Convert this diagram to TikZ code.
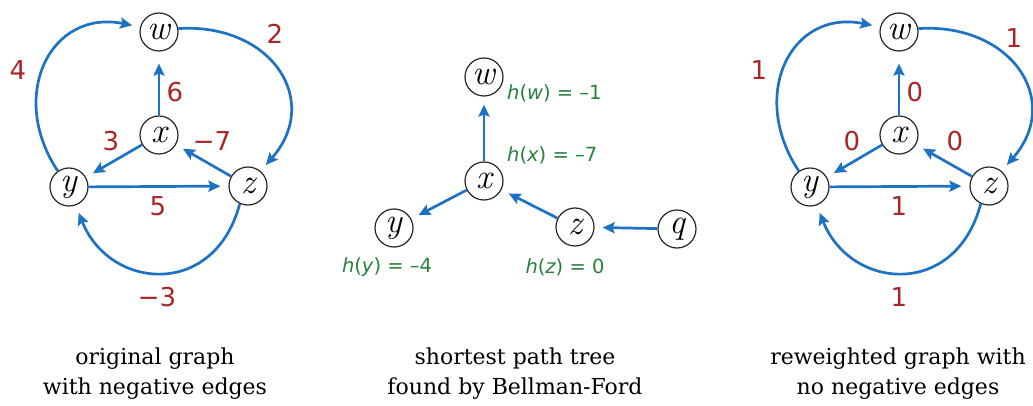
\documentclass[tikz,border=0pt]{standalone}
\usepackage{fontspec}
\usetikzlibrary{arrows.meta}
\newfontfamily\numfont{DejaVu Sans}
\newfontfamily\capfont{DejaVu Serif}
\definecolor{edgeblue}{RGB}{30,114,196}
\definecolor{wred}{RGB}{168,38,38}
\definecolor{hgreen}{RGB}{38,128,58}
\tikzset{
  vtx/.style={circle, draw=black!85, line width=1.2pt, minimum size=38pt, inner sep=0pt,
              font=\fontsize{35}{35}\selectfont\itshape},
  arr/.style={draw=edgeblue, line width=2.7pt, -{Stealth[length=12pt,width=11pt,inset=2pt]}, shorten >=8pt},
  wt/.style={text=wred, font=\numfont\fontsize{26}{26}\selectfont, inner sep=0pt},
  hl/.style={text=hgreen, font=\numfont\fontsize{19.5}{19.5}\selectfont, inner sep=0pt},
  captext/.style={font=\capfont\fontsize{22}{30}\selectfont, align=center, inner sep=0pt}
}
\begin{document}
\begin{tikzpicture}[x=1pt,y=-1pt]
\path[use as bounding box] (0,0) rectangle (1033,406);
% ---------- left graph ----------
\node[vtx] (wL) at (159,32) {w};
\node[vtx] (xL) at (159,135) {x};
\node[vtx] (yL) at (69,187) {y};
\node[vtx] (zL) at (248,186) {z};
\draw[arr, shorten >=12pt] (xL) -- (wL);
\draw[arr] (xL) -- (yL);
\draw[arr] (zL) -- (xL);
\draw[arr] (yL) -- (zL);
\draw[arr] (yL.125) .. controls +(-50,-75) and +(-90,-18) .. (wL.165);
\draw[arr] (wL.10) .. controls +(92,-6) and +(62,-71) .. (zL.50);
\draw[arr] (zL.245) .. controls +(-25,95) and +(34,85) .. (yL.-70);
\node[wt] (l4) at (18,70) {4};
\node[wt] (l2) at (275,34) {2};
\node[wt] (l6) at (175,92) {6};
\node[wt] (l3) at (111,141) {3};
\node[wt] (l7) at (212,141) {−7};
\node[wt] (l5) at (158,206) {5};
\node[wt] (lm3) at (157,297) {−3};
% ---------- middle graph ----------
\node[vtx] (wM) at (484,77) {w};
\node[vtx] (xM) at (484,181) {x};
\node[vtx] (yM) at (394,228) {y};
\node[vtx] (zM) at (575,227) {z};
\node[vtx] (qM) at (677,229) {q};
\draw[arr] (xM) -- (wM);
\draw[arr] (xM) -- (yM);
\draw[arr] (zM) -- (xM);
\draw[arr] (qM) -- (zM);
\node[hl, anchor=west] (hw) at (507,93) {{\itshape h}({\itshape w}) = –1};
\node[hl, anchor=west] (hx) at (507,155) {{\itshape h}({\itshape x}) = –7};
\node[hl] (hy) at (387,267) {{\itshape h}({\itshape y}) = –4};
\node[hl] (hz) at (565,267) {{\itshape h}({\itshape z}) = 0};
% ---------- right graph ----------
\node[vtx] (wR) at (899,32) {w};
\node[vtx] (xR) at (899,135) {x};
\node[vtx] (yR) at (810,187) {y};
\node[vtx] (zR) at (989,186) {z};
\draw[arr, shorten >=12pt] (xR) -- (wR);
\draw[arr] (xR) -- (yR);
\draw[arr] (zR) -- (xR);
\draw[arr] (yR) -- (zR);
\draw[arr] (yR.125) .. controls +(-50,-75) and +(-90,-18) .. (wR.165);
\draw[arr] (wR.10) .. controls +(92,-6) and +(62,-71) .. (zR.50);
\draw[arr] (zR.245) .. controls +(-25,95) and +(34,85) .. (yR.-70);
\node[wt] (r1a) at (759,70) {1};
\node[wt] (r1b) at (1014,38) {1};
\node[wt] (r0a) at (915,92) {0};
\node[wt] (r0b) at (852,141) {0};
\node[wt] (r0c) at (955,141) {0};
\node[wt] (r1c) at (899,206) {1};
\node[wt] (r1d) at (899,297) {1};
% ---------- captions ----------
\node[captext] (cL) at (155,374) {original graph\\with negative edges};
\node[captext] (cM) at (515,374) {shortest path tree\\found by Bellman-Ford};
\node[captext] (cR) at (898,374) {reweighted graph with\\no negative edges};
\end{tikzpicture}
\end{document}
